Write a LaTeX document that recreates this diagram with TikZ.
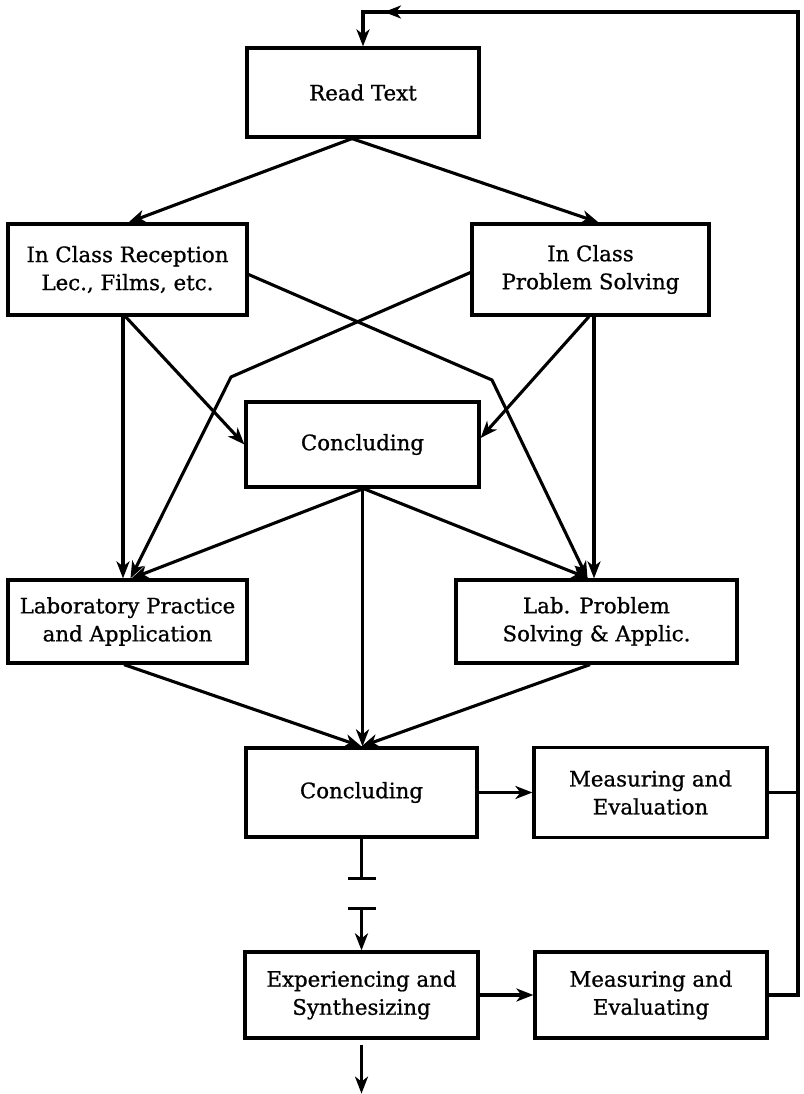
\documentclass[tikz,border=0pt]{standalone}
\usepackage{fontspec}
\setmainfont{DejaVu Serif}
\newfontfamily\boxfont{DejaVu Serif}[FakeBold=0.9]
\usetikzlibrary{arrows.meta,calc}
\begin{document}
\begin{tikzpicture}[x=1pt,y=-1pt,
  box/.style={draw,line width=3.2pt,rectangle,align=center,inner sep=0pt,
    font=\boxfont\fontsize{21.3}{28}\selectfont},
  conn/.style={line width=3.1pt,line cap=butt,line join=miter},
  tip/.style={-{Stealth[length=17pt,width=13pt,inset=5pt]}},
  arr/.style={conn,tip},
]
\useasboundingbox (0,0) rectangle (803,1094);

% boxes
\node[box,minimum width=232pt,minimum height=89pt] (read) at (363,92.5) {Read Text};
\node[box,minimum width=239pt,minimum height=91pt] (recep) at (127.5,269.5)
  {In Class Reception\\Lec., Films, etc.};
\node[box,minimum width=237pt,minimum height=91pt] (probsolve) at (590.5,269.5)
  {In Class\\Problem Solving};
\node[box,minimum width=233pt,minimum height=85pt] (conc1) at (362.5,444.5) {Concluding};
\node[box,minimum width=239pt,minimum height=83pt] (labprac) at (127.5,621.5)
  {Laboratory Practice\\and Application};
\node[box,minimum width=281pt,minimum height=83pt] (labprob) at (596.5,621.5)
  {Lab. Problem\\Solving \& Applic.};
\node[box,minimum width=231pt,minimum height=89pt] (conc2) at (361.5,792.5) {Concluding};
\node[box,minimum width=233pt,minimum height=90pt] (meas1) at (650.5,792.5)
  {Measuring and\\Evaluation};
\node[box,minimum width=233pt,minimum height=86pt] (exper) at (361.5,995)
  {Experiencing and\\Synthesizing};
\node[box,minimum width=232pt,minimum height=86pt] (meas2) at (651,995)
  {Measuring and\\Evaluating};

% way points
\coordinate (rc) at (798,12);
\coordinate (tl) at (read.north |- rc);
\coordinate (tmid) at (384,12);
\coordinate (bendR) at (492,380);
\coordinate (bendL) at (231,377);
\coordinate (brkA) at ($(conc2.south)+(0,41)$);
\coordinate (brkB) at ($(conc2.south)+(0,68)$);
\coordinate (out) at ($(exper.south)+(0,54)$);

% feedback loop back to the top
\draw[arr] (meas2.east) -| (rc) -- (tl) -- (read.north);
\draw[arr] (rc) -- (tmid);
\draw[conn] (meas1.east) -- (meas1.east -| rc);

% from Read Text
\draw[arr] ($(read.south)+(-11,0)$) -- ($(recep.north)+(1,0)$);
\draw[arr] ($(read.south)+(-11,0)$) -- ($(probsolve.north)+(8,0)$);

% from In Class Reception
\draw[arr] ($(recep.south)+(-4.5,0)$) -- ($(labprac.north)+(-4.5,0)$);
\draw[arr] ($(recep.south)+(-2,0)$) -- (conc1.west);
\draw[arr] ($(recep.east)+(0,5)$) -- (bendR) -- ($(labprob.north)+(-9,0)$);

% from In Class Problem Solving
\draw[arr] ($(probsolve.west)+(0,3)$) -- (bendL) -- ($(labprac.north)+(3,0)$);
\draw[arr] ($(probsolve.south)+(3.5,0)$) -- ($(labprob.north)+(-2.5,0)$);
\draw[arr] ($(probsolve.south)+(-1.5,0)$) -- ($(conc1.east)+(0,-6.5)$);

% from the first Concluding
\draw[arr] ($(conc1.south)+(1,0)$) -- ($(labprac.north)+(4,0)$);
\draw[arr] ($(conc1.south)+(1,0)$) -- ($(labprob.north)+(-8,0)$);
\draw[arr] (conc1.south) -- (conc1.south |- conc2.north);

% into the second Concluding
\draw[arr] ($(labprac.south)+(-3.5,0)$) -- (conc2.north);
\draw[arr] ($(labprob.south)+(-6.5,0)$) -- (conc2.north);

% lower part
\draw[arr] (conc2.east) -- (meas1.west);
\draw[conn,-{Bar[width=28pt]}] (conc2.south) -- (brkA);
\draw[conn,{Bar[width=28pt]}-{Stealth[length=17pt,width=13pt,inset=5pt]}] (brkB) -- (exper.north);
\draw[arr] (exper.east) -- (meas2.west);
\draw[arr] ($(exper.south)+(0,5)$) -- (out);
\end{tikzpicture}
\end{document}
